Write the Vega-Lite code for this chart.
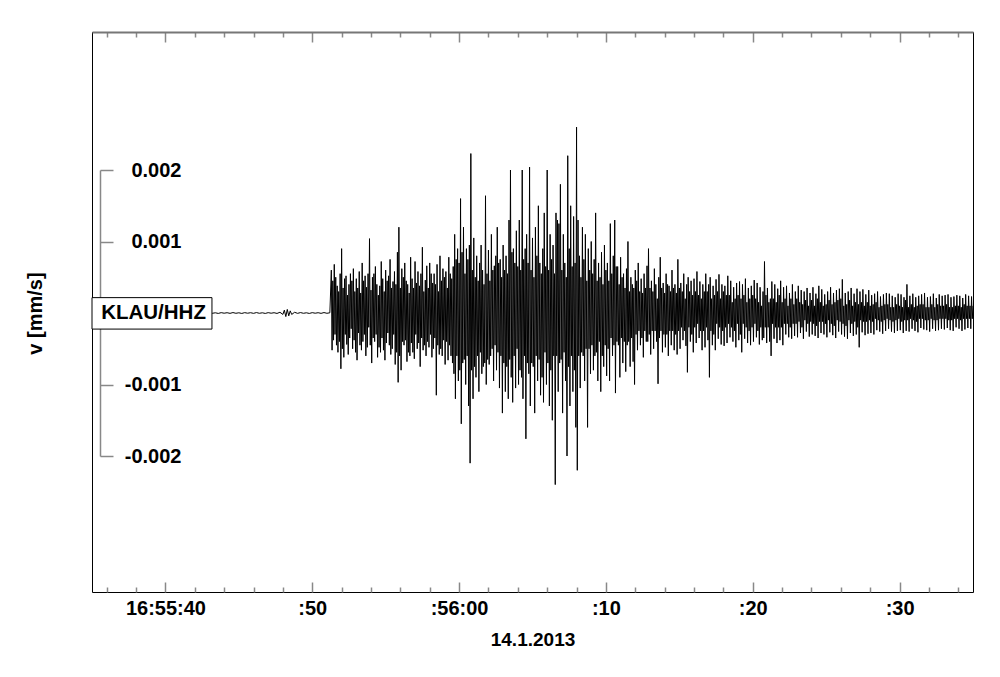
{
"$schema": "https://vega.github.io/schema/vega-lite/v6.json",
"width": 881,
"height": 560,
"autosize": {"type": "none"},
"padding": {"left": 92, "top": 32, "right": 27, "bottom": 85},
"background": "white",
"config": {"view": {"stroke": "#000", "strokeWidth": 1}, "font": "Liberation Sans"},
"datasets": {
"trace": [
{"t":35,"v":0.000005},{"t":35.2,"v":-0.000004},{"t":35.4,"v":0.000006},{"t":35.6,"v":-0.000003},{"t":35.8,"v":0.000004},{"t":36,"v":-0.000006},{"t":36.2,"v":0.000003},{"t":36.4,"v":-0.000005},{"t":36.6,"v":0.000006},{"t":36.8,"v":-0.000004},{"t":37,"v":0.000003},{"t":37.2,"v":-0.000006},{"t":37.4,"v":0.000005},{"t":37.6,"v":-0.000003},{"t":37.8,"v":0.000004},{"t":38,"v":-0.000005},{"t":38.2,"v":0.000006},{"t":38.4,"v":-0.000004},{"t":38.6,"v":0.000003},{"t":38.8,"v":-0.000006},{"t":39,"v":0.000005},{"t":39.2,"v":-0.000003},{"t":39.4,"v":0.000004},{"t":39.6,"v":-0.000005},{"t":39.8,"v":0.000006},{"t":40,"v":-0.000004},{"t":40.2,"v":0.000003},{"t":40.4,"v":-0.000006},{"t":40.6,"v":0.000005},{"t":40.8,"v":-0.000003},{"t":41,"v":0.000004},{"t":41.2,"v":-0.000005},{"t":41.4,"v":0.000006},{"t":41.6,"v":-0.000004},{"t":41.8,"v":0.000003},{"t":42,"v":-0.000006},{"t":42.2,"v":0.000005},{"t":42.4,"v":-0.000003},{"t":42.6,"v":0.000004},{"t":42.8,"v":-0.000005},{"t":43,"v":0.000006},{"t":43.2,"v":-0.000004},{"t":43.4,"v":0.000003},{"t":43.6,"v":-0.000006},{"t":43.8,"v":0.000005},{"t":44,"v":-0.000003},{"t":44.2,"v":0.000004},{"t":44.4,"v":-0.000005},{"t":44.6,"v":0.000006},{"t":44.8,"v":-0.000004},{"t":45,"v":0.000003},{"t":45.2,"v":-0.000006},{"t":45.4,"v":0.000005},{"t":45.6,"v":-0.000003},{"t":45.8,"v":0.000004},{"t":46,"v":-0.000005},{"t":46.2,"v":0.000006},{"t":46.4,"v":-0.000004},{"t":46.6,"v":0.000003},{"t":46.8,"v":-0.000006},{"t":47,"v":0.000005},{"t":47.2,"v":-0.000003},{"t":47.4,"v":0.000004},{"t":47.6,"v":-0.000006},{"t":47.8,"v":0.00001},{"t":48,"v":-0.00002},{"t":48.1,"v":0.00004},{"t":48.2,"v":-0.00005},{"t":48.3,"v":0.00005},{"t":48.4,"v":-0.00004},{"t":48.5,"v":0.00003},{"t":48.6,"v":-0.00002},{"t":48.8,"v":0.00001},{"t":49,"v":-0.000005},{"t":49.2,"v":0.000006},{"t":49.4,"v":-0.000004},{"t":49.6,"v":0.000003},{"t":49.8,"v":-0.000006},{"t":50,"v":0.000005},{"t":50.2,"v":-0.000003},{"t":50.4,"v":0.000004},{"t":50.6,"v":-0.000005},{"t":50.8,"v":0.000006},{"t":51,"v":-0.000004},{"t":51.2,"v":0.000003},
{"t":51.3,"v":0.0006},{"t":51.35,"v":-0.00052},{"t":51.4,"v":0.00045},{"t":51.45,"v":-0.00038},{"t":51.5,"v":0.00068},{"t":51.55,"v":-0.0003},{"t":51.6,"v":0.0005},{"t":51.65,"v":-0.00045},{"t":51.7,"v":0.00038},{"t":51.75,"v":-0.00055},
{"t":51.8,"v":0.0003},{"t":51.85,"v":-0.0004},{"t":51.9,"v":0.00055},{"t":51.95,"v":-0.00078},{"t":52,"v":0.0009},{"t":52.05,"v":-0.0005},{"t":52.1,"v":0.00035},{"t":52.15,"v":-0.00062},{"t":52.2,"v":0.00048},{"t":52.25,"v":-0.0003},
{"t":52.3,"v":0.00052},{"t":52.35,"v":-0.00044},{"t":52.4,"v":0.00025},{"t":52.45,"v":-0.00058},{"t":52.5,"v":0.0004},{"t":52.55,"v":-0.00035},{"t":52.6,"v":0.00055},{"t":52.65,"v":-0.00022},{"t":52.7,"v":0.00045},{"t":52.75,"v":-0.0005},
{"t":52.8,"v":0.00062},{"t":52.85,"v":-0.00038},{"t":52.9,"v":0.0003},{"t":52.95,"v":-0.00055},{"t":53,"v":0.00048},{"t":53.05,"v":-0.00066},{"t":53.1,"v":0.00035},{"t":53.15,"v":-0.00028},{"t":53.2,"v":0.00058},{"t":53.25,"v":-0.00045},
{"t":53.3,"v":0.00028},{"t":53.35,"v":-0.00052},{"t":53.4,"v":0.0007},{"t":53.45,"v":-0.0004},{"t":53.5,"v":0.00045},{"t":53.55,"v":-0.0003},{"t":53.6,"v":0.00052},{"t":53.65,"v":-0.0006},{"t":53.7,"v":0.00036},{"t":53.75,"v":-0.00048},
{"t":53.8,"v":0.00055},{"t":53.85,"v":-0.0002},{"t":53.9,"v":0.00104},{"t":53.95,"v":-0.00045},{"t":54,"v":0.00032},{"t":54.05,"v":-0.0007},{"t":54.1,"v":0.0005},{"t":54.15,"v":-0.00035},{"t":54.2,"v":0.00055},{"t":54.25,"v":-0.0004},
{"t":54.3,"v":0.00065},{"t":54.35,"v":-0.0003},{"t":54.4,"v":0.0004},{"t":54.45,"v":-0.00062},{"t":54.5,"v":0.00025},{"t":54.55,"v":-0.00048},{"t":54.6,"v":0.00038},{"t":54.65,"v":-0.00055},{"t":54.7,"v":0.00072},{"t":54.75,"v":-0.00035},
{"t":54.8,"v":0.00048},{"t":54.85,"v":-0.00052},{"t":54.9,"v":0.0003},{"t":54.95,"v":-0.00066},{"t":55,"v":0.0006},{"t":55.05,"v":-0.00042},{"t":55.1,"v":0.00045},{"t":55.15,"v":-0.00028},{"t":55.2,"v":0.00052},{"t":55.25,"v":-0.00045},
{"t":55.3,"v":0.00075},{"t":55.35,"v":-0.00058},{"t":55.4,"v":0.00035},{"t":55.45,"v":-0.0005},{"t":55.5,"v":0.00044},{"t":55.55,"v":-0.0003},{"t":55.6,"v":0.00058},{"t":55.65,"v":-0.00072},{"t":55.7,"v":0.0004},{"t":55.75,"v":-0.00055},
{"t":55.8,"v":0.00085},{"t":55.85,"v":-0.00097},{"t":55.9,"v":0.0012},{"t":55.95,"v":-0.0006},{"t":56,"v":0.00035},{"t":56.05,"v":-0.0008},{"t":56.1,"v":0.00062},{"t":56.15,"v":-0.0004},{"t":56.2,"v":0.0005},{"t":56.25,"v":-0.00045},
{"t":56.3,"v":0.0007},{"t":56.35,"v":-0.00038},{"t":56.4,"v":0.00045},{"t":56.45,"v":-0.00068},{"t":56.5,"v":0.0004},{"t":56.55,"v":-0.00055},{"t":56.6,"v":0.00028},{"t":56.65,"v":-0.0006},{"t":56.7,"v":0.00078},{"t":56.75,"v":-0.00042},
{"t":56.8,"v":0.00048},{"t":56.85,"v":-0.00055},{"t":56.9,"v":0.00035},{"t":56.95,"v":-0.00064},{"t":57,"v":0.00072},{"t":57.05,"v":-0.0003},{"t":57.1,"v":0.00042},{"t":57.15,"v":-0.0005},{"t":57.2,"v":0.00058},{"t":57.25,"v":-0.00042},
{"t":57.3,"v":0.00038},{"t":57.35,"v":-0.00075},{"t":57.4,"v":0.00055},{"t":57.45,"v":-0.00035},{"t":57.5,"v":0.00092},{"t":57.55,"v":-0.00052},{"t":57.6,"v":0.0003},{"t":57.65,"v":-0.00045},{"t":57.7,"v":0.00046},{"t":57.75,"v":-0.0006},
{"t":57.8,"v":0.00066},{"t":57.85,"v":-0.0004},{"t":57.9,"v":0.00035},{"t":57.95,"v":-0.00048},{"t":58,"v":0.0007},{"t":58.05,"v":-0.0003},{"t":58.1,"v":0.00055},{"t":58.15,"v":-0.00062},{"t":58.2,"v":0.00042},{"t":58.25,"v":-0.0005},
{"t":58.3,"v":0.00055},{"t":58.35,"v":-0.00035},{"t":58.4,"v":0.0004},{"t":58.45,"v":-0.00115},{"t":58.5,"v":0.00068},{"t":58.55,"v":-0.00045},{"t":58.6,"v":0.0003},{"t":58.65,"v":-0.00058},{"t":58.7,"v":0.0008},{"t":58.75,"v":-0.0005},
{"t":58.8,"v":0.00045},{"t":58.85,"v":-0.0006},{"t":58.9,"v":0.00062},{"t":58.95,"v":-0.00038},{"t":59,"v":0.0005},{"t":59.05,"v":-0.00072},{"t":59.1,"v":0.00058},{"t":59.15,"v":-0.0004},{"t":59.2,"v":0.00035},{"t":59.25,"v":-0.00066},
{"t":59.3,"v":0.00078},{"t":59.35,"v":-0.00045},{"t":59.4,"v":0.00055},{"t":59.45,"v":-0.0006},{"t":59.5,"v":0.00048},{"t":59.55,"v":-0.0007},{"t":59.6,"v":0.00065},{"t":59.65,"v":-0.00085},{"t":59.7,"v":0.0011},{"t":59.75,"v":-0.0012},
{"t":59.8,"v":0.00075},{"t":59.85,"v":-0.0006},{"t":59.9,"v":0.0009},{"t":59.95,"v":-0.00095},{"t":60,"v":0.0007},{"t":60.05,"v":-0.0008},{"t":60.1,"v":0.0016},{"t":60.15,"v":-0.00155},{"t":60.2,"v":0.00085},{"t":60.25,"v":-0.0007},
{"t":60.3,"v":0.0012},{"t":60.35,"v":-0.00065},{"t":60.4,"v":0.00055},{"t":60.45,"v":-0.001},{"t":60.5,"v":0.0009},{"t":60.55,"v":-0.0006},{"t":60.6,"v":0.00075},{"t":60.65,"v":-0.0013},{"t":60.7,"v":0.00095},{"t":60.75,"v":-0.0021},
{"t":60.8,"v":0.00223},{"t":60.85,"v":-0.0008},{"t":60.9,"v":0.0006},{"t":60.95,"v":-0.0012},{"t":61,"v":0.00105},{"t":61.05,"v":-0.00075},{"t":61.1,"v":0.0005},{"t":61.15,"v":-0.0009},{"t":61.2,"v":0.0008},{"t":61.25,"v":-0.0006},
{"t":61.3,"v":0.00045},{"t":61.35,"v":-0.0011},{"t":61.4,"v":0.0007},{"t":61.45,"v":-0.00055},{"t":61.5,"v":0.00095},{"t":61.55,"v":-0.00085},{"t":61.6,"v":0.0006},{"t":61.65,"v":-0.00075},{"t":61.7,"v":0.0004},{"t":61.75,"v":-0.0007},
{"t":61.8,"v":0.00164},{"t":61.85,"v":-0.001},{"t":61.9,"v":0.00055},{"t":61.95,"v":-0.00065},{"t":62,"v":0.00088},{"t":62.05,"v":-0.00072},{"t":62.1,"v":0.00045},{"t":62.15,"v":-0.0006},{"t":62.2,"v":0.0011},{"t":62.25,"v":-0.0005},
{"t":62.3,"v":0.0006},{"t":62.35,"v":-0.00095},{"t":62.4,"v":0.00066},{"t":62.45,"v":-0.00045},{"t":62.5,"v":0.0008},{"t":62.55,"v":-0.0008},{"t":62.6,"v":0.0012},{"t":62.65,"v":-0.00055},{"t":62.7,"v":0.0007},{"t":62.75,"v":-0.00105},
{"t":62.8,"v":0.00075},{"t":62.85,"v":-0.0006},{"t":62.9,"v":0.0005},{"t":62.95,"v":-0.0014},{"t":63,"v":0.00095},{"t":63.05,"v":-0.0007},{"t":63.1,"v":0.0006},{"t":63.15,"v":-0.0011},{"t":63.2,"v":0.0008},{"t":63.25,"v":-0.00075},
{"t":63.3,"v":0.00055},{"t":63.35,"v":-0.0012},{"t":63.4,"v":0.0013},{"t":63.45,"v":-0.00065},{"t":63.5,"v":0.002},{"t":63.55,"v":-0.0009},{"t":63.6,"v":0.00085},{"t":63.65,"v":-0.00125},{"t":63.7,"v":0.0009},{"t":63.75,"v":-0.0006},
{"t":63.8,"v":0.0007},{"t":63.85,"v":-0.00105},{"t":63.9,"v":0.00115},{"t":63.95,"v":-0.0005},{"t":64,"v":0.00065},{"t":64.05,"v":-0.001},{"t":64.1,"v":0.0013},{"t":64.15,"v":-0.0008},{"t":64.2,"v":0.0006},{"t":64.25,"v":-0.0009},
{"t":64.3,"v":0.002},{"t":64.35,"v":-0.0012},{"t":64.4,"v":0.00075},{"t":64.45,"v":-0.0006},{"t":64.5,"v":0.0009},{"t":64.55,"v":-0.00176},{"t":64.6,"v":0.0011},{"t":64.65,"v":-0.0007},{"t":64.7,"v":0.0007},{"t":64.75,"v":-0.00085},
{"t":64.8,"v":0.00204},{"t":64.85,"v":-0.0013},{"t":64.9,"v":0.0006},{"t":64.95,"v":-0.0007},{"t":65,"v":0.00105},{"t":65.05,"v":-0.00075},{"t":65.1,"v":0.0005},{"t":65.15,"v":-0.0014},{"t":65.2,"v":0.0012},{"t":65.25,"v":-0.0006},
{"t":65.3,"v":0.0008},{"t":65.35,"v":-0.00095},{"t":65.4,"v":0.0015},{"t":65.45,"v":-0.00065},{"t":65.5,"v":0.0007},{"t":65.55,"v":-0.00115},{"t":65.6,"v":0.00055},{"t":65.65,"v":-0.0009},{"t":65.7,"v":0.0009},{"t":65.75,"v":-0.00125},
{"t":65.8,"v":0.0014},{"t":65.85,"v":-0.00055},{"t":65.9,"v":0.00065},{"t":65.95,"v":-0.001},{"t":66,"v":0.002},{"t":66.05,"v":-0.0007},{"t":66.1,"v":0.0006},{"t":66.15,"v":-0.0013},{"t":66.2,"v":0.0011},{"t":66.25,"v":-0.0008},
{"t":66.3,"v":0.00075},{"t":66.35,"v":-0.0015},{"t":66.4,"v":0.00095},{"t":66.45,"v":-0.0006},{"t":66.5,"v":0.00055},{"t":66.55,"v":-0.0024},{"t":66.6,"v":0.0014},{"t":66.65,"v":-0.0006},{"t":66.7,"v":0.0013},{"t":66.75,"v":-0.0011},
{"t":66.8,"v":0.00125},{"t":66.85,"v":-0.0007},{"t":66.9,"v":0.0018},{"t":66.95,"v":-0.00065},{"t":67,"v":0.0006},{"t":67.05,"v":-0.0014},{"t":67.1,"v":0.0011},{"t":67.15,"v":-0.00055},{"t":67.2,"v":0.0007},{"t":67.25,"v":-0.00095},
{"t":67.3,"v":0.0005},{"t":67.35,"v":-0.002},{"t":67.4,"v":0.0022},{"t":67.45,"v":-0.00075},{"t":67.5,"v":0.0009},{"t":67.55,"v":-0.0013},{"t":67.6,"v":0.0015},{"t":67.65,"v":-0.0006},{"t":67.7,"v":0.00065},{"t":67.75,"v":-0.0011},
{"t":67.8,"v":0.00135},{"t":67.85,"v":-0.0008},{"t":67.9,"v":0.0007},{"t":67.95,"v":-0.0016},{"t":68,"v":0.0026},{"t":68.05,"v":-0.0022},{"t":68.1,"v":0.0013},{"t":68.15,"v":-0.0006},{"t":68.2,"v":0.0008},{"t":68.25,"v":-0.00105},
{"t":68.3,"v":0.0005},{"t":68.35,"v":-0.00055},{"t":68.4,"v":0.0012},{"t":68.45,"v":-0.0006},{"t":68.5,"v":0.00075},{"t":68.55,"v":-0.00095},{"t":68.6,"v":0.0011},{"t":68.65,"v":-0.0005},{"t":68.7,"v":0.00045},{"t":68.75,"v":-0.0016},
{"t":68.8,"v":0.0009},{"t":68.85,"v":-0.0005},{"t":68.9,"v":0.0006},{"t":68.95,"v":-0.00085},{"t":69,"v":0.001},{"t":69.05,"v":-0.00045},{"t":69.1,"v":0.00055},{"t":69.15,"v":-0.0008},{"t":69.2,"v":0.00075},{"t":69.25,"v":-0.0006},
{"t":69.3,"v":0.0014},{"t":69.35,"v":-0.00055},{"t":69.4,"v":0.00045},{"t":69.45,"v":-0.00095},{"t":69.5,"v":0.0007},{"t":69.55,"v":-0.0004},{"t":69.6,"v":0.0005},{"t":69.65,"v":-0.0011},{"t":69.7,"v":0.00085},{"t":69.75,"v":-0.0006},
{"t":69.8,"v":0.0004},{"t":69.85,"v":-0.00075},{"t":69.9,"v":0.00095},{"t":69.95,"v":-0.00045},{"t":70,"v":0.0006},{"t":70.05,"v":-0.00088},{"t":70.1,"v":0.0007},{"t":70.15,"v":-0.0005},{"t":70.2,"v":0.00045},{"t":70.25,"v":-0.00095},
{"t":70.3,"v":0.00125},{"t":70.35,"v":-0.00035},{"t":70.4,"v":0.00055},{"t":70.45,"v":-0.0006},{"t":70.5,"v":0.0008},{"t":70.55,"v":-0.00045},{"t":70.6,"v":0.0013},{"t":70.65,"v":-0.00112},{"t":70.7,"v":0.00065},{"t":70.75,"v":-0.0004},
{"t":70.8,"v":0.00065},{"t":70.85,"v":-0.00045},{"t":70.9,"v":0.0004},{"t":70.95,"v":-0.0009},{"t":71,"v":0.00078},{"t":71.05,"v":-0.00035},{"t":71.1,"v":0.0005},{"t":71.15,"v":-0.0007},{"t":71.2,"v":0.00055},{"t":71.25,"v":-0.0004},
{"t":71.3,"v":0.00035},{"t":71.35,"v":-0.00082},{"t":71.4,"v":0.00062},{"t":71.45,"v":-0.00045},{"t":71.5,"v":0.001},{"t":71.55,"v":-0.0004},{"t":71.6,"v":0.0003},{"t":71.65,"v":-0.00075},{"t":71.7,"v":0.0005},{"t":71.75,"v":-0.00035},
{"t":71.8,"v":0.0004},{"t":71.85,"v":-0.00068},{"t":71.9,"v":0.00035},{"t":71.95,"v":-0.001},{"t":72,"v":0.0006},{"t":72.05,"v":-0.0003},{"t":72.1,"v":0.00045},{"t":72.15,"v":-0.00052},{"t":72.2,"v":0.0007},{"t":72.25,"v":-0.00025},
{"t":72.3,"v":0.0003},{"t":72.35,"v":-0.00045},{"t":72.4,"v":0.00048},{"t":72.45,"v":-0.00035},{"t":72.5,"v":0.00028},{"t":72.55,"v":-0.00062},{"t":72.6,"v":0.00055},{"t":72.65,"v":-0.00025},{"t":72.7,"v":0.00035},{"t":72.75,"v":-0.0004},
{"t":72.8,"v":0.00066},{"t":72.85,"v":-0.0004},{"t":72.9,"v":0.0009},{"t":72.95,"v":-0.0003},{"t":73,"v":0.00035},{"t":73.05,"v":-0.00058},{"t":73.1,"v":0.00045},{"t":73.15,"v":-0.00025},{"t":73.2,"v":0.0003},{"t":73.25,"v":-0.0005},
{"t":73.3,"v":0.00062},{"t":73.35,"v":-0.00025},{"t":73.4,"v":0.0004},{"t":73.45,"v":-0.0004},{"t":73.5,"v":0.0002},{"t":73.55,"v":-0.00099},{"t":73.6,"v":0.0005},{"t":73.65,"v":-0.00035},{"t":73.7,"v":0.00078},{"t":73.75,"v":-0.00025},
{"t":73.8,"v":0.00035},{"t":73.85,"v":-0.00055},{"t":73.9,"v":0.00042},{"t":73.95,"v":-0.0003},{"t":74,"v":0.00028},{"t":74.05,"v":-0.00048},{"t":74.1,"v":0.00055},{"t":74.15,"v":-0.0003},{"t":74.2,"v":0.0004},{"t":74.25,"v":-0.0006},
{"t":74.3,"v":0.00038},{"t":74.35,"v":-0.00025},{"t":74.4,"v":0.0003},{"t":74.45,"v":-0.00045},{"t":74.5,"v":0.0006},{"t":74.55,"v":-0.00025},{"t":74.6,"v":0.00035},{"t":74.65,"v":-0.00052},{"t":74.7,"v":0.0004},{"t":74.75,"v":-0.0003},
{"t":74.8,"v":0.00028},{"t":74.85,"v":-0.00058},{"t":74.9,"v":0.00075},{"t":74.95,"v":-0.00025},{"t":75,"v":0.00035},{"t":75.05,"v":-0.0005},{"t":75.1,"v":0.00042},{"t":75.15,"v":-0.0002},{"t":75.2,"v":0.0003},{"t":75.25,"v":-0.00038},
{"t":75.3,"v":0.00055},{"t":75.35,"v":-0.00025},{"t":75.4,"v":0.0002},{"t":75.45,"v":-0.00046},{"t":75.5,"v":0.0004},{"t":75.55,"v":-0.00083},{"t":75.6,"v":0.0005},{"t":75.65,"v":-0.0002},{"t":75.7,"v":0.0003},{"t":75.75,"v":-0.0004},
{"t":75.8,"v":0.00045},{"t":75.85,"v":-0.0003},{"t":75.9,"v":0.00025},{"t":75.95,"v":-0.00055},{"t":76,"v":0.00048},{"t":76.05,"v":-0.0002},{"t":76.1,"v":0.0003},{"t":76.15,"v":-0.00042},{"t":76.2,"v":0.00058},{"t":76.25,"v":-0.00015},
{"t":76.3,"v":0.00025},{"t":76.35,"v":-0.00035},{"t":76.4,"v":0.00044},{"t":76.45,"v":-0.00025},{"t":76.5,"v":0.0002},{"t":76.55,"v":-0.00052},{"t":76.6,"v":0.0004},{"t":76.65,"v":-0.00025},{"t":76.7,"v":0.0003},{"t":76.75,"v":-0.00048},
{"t":76.8,"v":0.00055},{"t":76.85,"v":-0.0002},{"t":76.9,"v":0.0003},{"t":76.95,"v":-0.00038},{"t":77,"v":0.0004},{"t":77.05,"v":-0.0009},{"t":77.1,"v":0.0005},{"t":77.15,"v":-0.00025},{"t":77.2,"v":0.0002},{"t":77.25,"v":-0.00045},
{"t":77.3,"v":0.00038},{"t":77.35,"v":-0.0003},{"t":77.4,"v":0.00025},{"t":77.45,"v":-0.00052},{"t":77.5,"v":0.00047},{"t":77.55,"v":-0.00015},{"t":77.6,"v":0.0003},{"t":77.65,"v":-0.00036},{"t":77.7,"v":0.00054},{"t":77.75,"v":-0.0002},
{"t":77.8,"v":0.0002},{"t":77.85,"v":-0.00044},{"t":77.9,"v":0.0004},{"t":77.95,"v":-0.00025},{"t":78,"v":0.0003},{"t":78.05,"v":-0.00046},{"t":78.1,"v":0.00038},{"t":78.15,"v":-0.0002},{"t":78.2,"v":0.00025},{"t":78.25,"v":-0.00042},
{"t":78.3,"v":0.00052},{"t":78.35,"v":-0.00015},{"t":78.4,"v":0.00025},{"t":78.45,"v":-0.00034},{"t":78.5,"v":0.00045},{"t":78.55,"v":-0.0002},{"t":78.6,"v":0.00015},{"t":78.65,"v":-0.0004},{"t":78.7,"v":0.00036},{"t":78.75,"v":-0.00025},
{"t":78.8,"v":0.0002},{"t":78.85,"v":-0.00048},{"t":78.9,"v":0.00042},{"t":78.95,"v":-0.00015},{"t":79,"v":0.00025},{"t":79.05,"v":-0.00038},{"t":79.1,"v":0.00044},{"t":79.15,"v":-0.0003},{"t":79.2,"v":0.0002},{"t":79.25,"v":-0.00055},
{"t":79.3,"v":0.0004},{"t":79.35,"v":-0.00015},{"t":79.4,"v":0.00025},{"t":79.45,"v":-0.00036},{"t":79.5,"v":0.00048},{"t":79.55,"v":-0.0002},{"t":79.6,"v":0.00015},{"t":79.65,"v":-0.00042},{"t":79.7,"v":0.00035},{"t":79.75,"v":-0.00025},
{"t":79.8,"v":0.0002},{"t":79.85,"v":-0.00045},{"t":79.9,"v":0.00038},{"t":79.95,"v":-0.0002},{"t":80,"v":0.00025},{"t":80.05,"v":-0.0004},{"t":80.1,"v":0.00046},{"t":80.15,"v":-0.00015},{"t":80.2,"v":0.0002},{"t":80.25,"v":-0.00034},
{"t":80.3,"v":0.00042},{"t":80.35,"v":-0.00025},{"t":80.4,"v":0.00015},{"t":80.45,"v":-0.00044},{"t":80.5,"v":0.00036},{"t":80.55,"v":-0.0002},{"t":80.6,"v":0.0001},{"t":80.65,"v":-0.00038},{"t":80.7,"v":0.0003},{"t":80.75,"v":-0.00035},
{"t":80.8,"v":0.00072},{"t":80.85,"v":-0.0002},{"t":80.9,"v":0.00025},{"t":80.95,"v":-0.00042},{"t":81,"v":0.00035},{"t":81.05,"v":-0.0002},{"t":81.1,"v":0.00015},{"t":81.15,"v":-0.0004},{"t":81.2,"v":0.0002},{"t":81.25,"v":-0.0006},
{"t":81.3,"v":0.00044},{"t":81.35,"v":-0.00015},{"t":81.4,"v":0.0002},{"t":81.45,"v":-0.00036},{"t":81.5,"v":0.0004},{"t":81.55,"v":-0.0002},{"t":81.6,"v":0.00015},{"t":81.65,"v":-0.00042},{"t":81.7,"v":0.00034},{"t":81.75,"v":-0.0002},
{"t":81.8,"v":0.00025},{"t":81.85,"v":-0.00038},{"t":81.9,"v":0.00045},{"t":81.95,"v":-0.0002},{"t":82,"v":0.00015},{"t":82.05,"v":-0.00045},{"t":82.1,"v":0.00036},{"t":82.15,"v":-0.00015},{"t":82.2,"v":0.0002},{"t":82.25,"v":-0.0003},
{"t":82.3,"v":0.00038},{"t":82.35,"v":-0.00015},{"t":82.4,"v":0.0001},{"t":82.45,"v":-0.00034},{"t":82.5,"v":0.00028},{"t":82.55,"v":-0.0002},{"t":82.6,"v":0.0002},{"t":82.65,"v":-0.00036},{"t":82.7,"v":0.0004},{"t":82.75,"v":-0.00015},
{"t":82.8,"v":0.00012},{"t":82.85,"v":-0.00032},{"t":82.9,"v":0.0003},{"t":82.95,"v":-0.00015},{"t":83,"v":0.0002},{"t":83.05,"v":-0.00034},{"t":83.1,"v":0.00038},{"t":83.15,"v":-0.00012},{"t":83.2,"v":0.00015},{"t":83.25,"v":-0.00028},
{"t":83.3,"v":0.00032},{"t":83.35,"v":-0.0002},{"t":83.4,"v":0.00012},{"t":83.45,"v":-0.00036},{"t":83.5,"v":0.0003},{"t":83.55,"v":-0.0001},{"t":83.6,"v":0.00018},{"t":83.65,"v":-0.00026},{"t":83.7,"v":0.00035},{"t":83.75,"v":-0.00015},
{"t":83.8,"v":0.0001},{"t":83.85,"v":-0.00033},{"t":83.9,"v":0.00028},{"t":83.95,"v":-0.00012},{"t":84,"v":0.00018},{"t":84.05,"v":-0.0003},{"t":84.1,"v":0.00036},{"t":84.15,"v":-0.00015},{"t":84.2,"v":0.0001},{"t":84.25,"v":-0.00032},
{"t":84.3,"v":0.00027},{"t":84.35,"v":-0.00018},{"t":84.4,"v":0.0002},{"t":84.45,"v":-0.00035},{"t":84.5,"v":0.00038},{"t":84.55,"v":-0.00012},{"t":84.6,"v":0.00015},{"t":84.65,"v":-0.00028},{"t":84.7,"v":0.00033},{"t":84.75,"v":-0.00012},
{"t":84.8,"v":0.0001},{"t":84.85,"v":-0.0003},{"t":84.9,"v":0.00026},{"t":84.95,"v":-0.00015},{"t":85,"v":0.00012},{"t":85.05,"v":-0.00034},{"t":85.1,"v":0.0003},{"t":85.15,"v":-0.0001},{"t":85.2,"v":0.00018},{"t":85.25,"v":-0.00027},
{"t":85.3,"v":0.00036},{"t":85.35,"v":-0.00015},{"t":85.4,"v":0.00012},{"t":85.45,"v":-0.00031},{"t":85.5,"v":0.00028},{"t":85.55,"v":-0.00018},{"t":85.6,"v":0.00015},{"t":85.65,"v":-0.00035},{"t":85.7,"v":0.00032},{"t":85.75,"v":-0.0001},
{"t":85.8,"v":0.00018},{"t":85.85,"v":-0.00026},{"t":85.9,"v":0.00034},{"t":85.95,"v":-0.00012},{"t":86,"v":0.0002},{"t":86.05,"v":-0.0003},{"t":86.1,"v":0.00047},{"t":86.15,"v":-0.00015},{"t":86.2,"v":0.0001},{"t":86.25,"v":-0.00033},
{"t":86.3,"v":0.00028},{"t":86.35,"v":-0.00018},{"t":86.4,"v":0.00012},{"t":86.45,"v":-0.00036},{"t":86.5,"v":0.0003},{"t":86.55,"v":-0.0001},{"t":86.6,"v":0.00018},{"t":86.65,"v":-0.00028},{"t":86.7,"v":0.00035},{"t":86.75,"v":-0.00015},
{"t":86.8,"v":0.0001},{"t":86.85,"v":-0.00032},{"t":86.9,"v":0.00027},{"t":86.95,"v":-0.00012},{"t":87,"v":0.00015},{"t":87.05,"v":-0.0003},{"t":87.1,"v":0.00034},{"t":87.15,"v":-0.0002},{"t":87.2,"v":0.00012},{"t":87.25,"v":-0.00048},
{"t":87.3,"v":0.0003},{"t":87.35,"v":-0.0001},{"t":87.4,"v":0.00015},{"t":87.45,"v":-0.00027},{"t":87.5,"v":0.00033},{"t":87.55,"v":-0.00012},{"t":87.6,"v":0.0001},{"t":87.65,"v":-0.00031},{"t":87.7,"v":0.00026},{"t":87.75,"v":-0.00012},
{"t":87.8,"v":0.00015},{"t":87.85,"v":-0.00029},{"t":87.9,"v":0.00032},{"t":87.95,"v":-0.0001},{"t":88,"v":0.0001},{"t":88.05,"v":-0.00028},{"t":88.1,"v":0.00025},{"t":88.15,"v":-0.00012},{"t":88.2,"v":0.00012},{"t":88.25,"v":-0.0003},
{"t":88.3,"v":0.00027},{"t":88.35,"v":-0.00008},{"t":88.4,"v":0.00015},{"t":88.45,"v":-0.00024},{"t":88.5,"v":0.0003},{"t":88.55,"v":-0.0001},{"t":88.6,"v":0.00008},{"t":88.65,"v":-0.00026},{"t":88.7,"v":0.00023},{"t":88.75,"v":-0.00012},
{"t":88.8,"v":0.0001},{"t":88.85,"v":-0.00029},{"t":88.9,"v":0.00026},{"t":88.95,"v":-0.0001},{"t":89,"v":0.00012},{"t":89.05,"v":-0.00025},{"t":89.1,"v":0.00028},{"t":89.15,"v":-0.00008},{"t":89.2,"v":0.00012},{"t":89.25,"v":-0.00022},
{"t":89.3,"v":0.00027},{"t":89.35,"v":-0.0001},{"t":89.4,"v":0.00008},{"t":89.45,"v":-0.00026},{"t":89.5,"v":0.00024},{"t":89.55,"v":-0.00012},{"t":89.6,"v":0.00008},{"t":89.65,"v":-0.00028},{"t":89.7,"v":0.00022},{"t":89.75,"v":-0.0001},
{"t":89.8,"v":0.00012},{"t":89.85,"v":-0.00025},{"t":89.9,"v":0.00027},{"t":89.95,"v":-0.00008},{"t":90,"v":0.0001},{"t":90.05,"v":-0.00024},{"t":90.1,"v":0.00026},{"t":90.15,"v":-0.00012},{"t":90.2,"v":0.00008},{"t":90.25,"v":-0.00028},
{"t":90.3,"v":0.00022},{"t":90.35,"v":-0.0001},{"t":90.4,"v":0.00018},{"t":90.45,"v":-0.00025},{"t":90.5,"v":0.0004},{"t":90.55,"v":-0.0001},{"t":90.6,"v":0.00008},{"t":90.65,"v":-0.00026},{"t":90.7,"v":0.00024},{"t":90.75,"v":-0.00008},
{"t":90.8,"v":0.00012},{"t":90.85,"v":-0.00022},{"t":90.9,"v":0.00027},{"t":90.95,"v":-0.0001},{"t":91,"v":0.00008},{"t":91.05,"v":-0.00025},{"t":91.1,"v":0.00022},{"t":91.15,"v":-0.00012},{"t":91.2,"v":0.0001},{"t":91.25,"v":-0.00027},
{"t":91.3,"v":0.00024},{"t":91.35,"v":-0.00008},{"t":91.4,"v":0.00012},{"t":91.45,"v":-0.00021},{"t":91.5,"v":0.00026},{"t":91.55,"v":-0.00008},{"t":91.6,"v":0.00012},{"t":91.65,"v":-0.00023},{"t":91.7,"v":0.00028},{"t":91.75,"v":-0.0001},
{"t":91.8,"v":0.00008},{"t":91.85,"v":-0.00024},{"t":91.9,"v":0.00022},{"t":91.95,"v":-0.0001},{"t":92,"v":0.00008},{"t":92.05,"v":-0.00026},{"t":92.1,"v":0.00023},{"t":92.15,"v":-0.00008},{"t":92.2,"v":0.00012},{"t":92.25,"v":-0.00022},
{"t":92.3,"v":0.00027},{"t":92.35,"v":-0.0001},{"t":92.4,"v":0.00008},{"t":92.45,"v":-0.00025},{"t":92.5,"v":0.00021},{"t":92.55,"v":-0.0001},{"t":92.6,"v":0.00012},{"t":92.65,"v":-0.00024},{"t":92.7,"v":0.00026},{"t":92.75,"v":-0.00008},
{"t":92.8,"v":0.0001},{"t":92.85,"v":-0.00022},{"t":92.9,"v":0.00024},{"t":92.95,"v":-0.00008},{"t":93,"v":0.0001},{"t":93.05,"v":-0.00023},{"t":93.1,"v":0.00025},{"t":93.15,"v":-0.00008},{"t":93.2,"v":0.00012},{"t":93.25,"v":-0.00021},
{"t":93.3,"v":0.00026},{"t":93.35,"v":-0.0001},{"t":93.4,"v":0.00008},{"t":93.45,"v":-0.00024},{"t":93.5,"v":0.00022},{"t":93.55,"v":-0.0001},{"t":93.6,"v":0.00008},{"t":93.65,"v":-0.00025},{"t":93.7,"v":0.00023},{"t":93.75,"v":-0.00008},
{"t":93.8,"v":0.0001},{"t":93.85,"v":-0.0002},{"t":93.9,"v":0.00025},{"t":93.95,"v":-0.00008},{"t":94,"v":0.0001},{"t":94.05,"v":-0.00022},{"t":94.1,"v":0.00024},{"t":94.15,"v":-0.0001},{"t":94.2,"v":0.00008},{"t":94.25,"v":-0.00025},
{"t":94.3,"v":0.00021},{"t":94.35,"v":-0.00008},{"t":94.4,"v":0.00012},{"t":94.45,"v":-0.00023},{"t":94.5,"v":0.00026},{"t":94.55,"v":-0.00008},{"t":94.6,"v":0.0001},{"t":94.65,"v":-0.00021},{"t":94.7,"v":0.00024},{"t":94.75,"v":-0.00008},
{"t":94.8,"v":0.0001},{"t":94.85,"v":-0.00022},{"t":94.9,"v":0.00023},{"t":94.95,"v":-0.00008},{"t":95,"v":0.0001}
],
"station": [{"name": "KLAU/HHZ"}]
},
"layer": [
{
"data": {"name": "trace"},
"mark": {"type": "line", "color": "#000", "strokeWidth": 1, "clip": true},
"encoding": {
"x": {"field": "t", "type": "quantitative",
"scale": {"domain": [35, 95], "nice": false, "zero": false},
"axis": {"orient": "bottom", "values": [36,38,40,42,44,46,48,50,52,54,56,58,60,62,64,66,68,70,72,74,76,78,80,82,84,86,88,90,92,94],
"domain": false, "grid": false, "tickColor": "#888", "tickWidth": 1.5,
"tickSize": {"condition": {"test": "datum.value % 10 === 0", "value": -10}, "value": -5},
"labelExpr": "datum.value == 40 ? '16:55:40' : datum.value == 60 ? ':56:00' : datum.value % 10 == 0 ? ':' + (datum.value % 60) : ''",
"labelFont": "Liberation Sans", "labelFontSize": 20, "labelFontWeight": "bold", "labelColor": "#000",
"labelPadding": 16, "labelOverlap": false, "labelFlush": false,
"title": "14.1.2013", "titleFont": "Liberation Sans", "titleFontSize": 19, "titleFontWeight": "bold", "titleColor": "#000", "titlePadding": 7}},
"y": {"field": "v", "type": "quantitative",
"scale": {"domain": [-0.002, 0.002], "range": [424, 138], "nice": false, "zero": false},
"axis": {"orient": "left", "offset": -8, "values": [-0.002, -0.001, 0.001, 0.002],
"domainColor": "#888", "domainWidth": 1.5, "grid": false,
"tickColor": "#888", "tickWidth": 1.5, "tickSize": -13,
"labelAlign": "right", "labelBaseline": "middle", "labelPadding": -68,
"labelExpr": "datum.value < 0 ? '-' + format(-datum.value, '.3f') : format(datum.value, '.3f')",
"labelFont": "Liberation Sans", "labelFontSize": 20, "labelFontWeight": "bold", "labelColor": "#000",
"labelOverlap": false, "labelFlush": false,
"title": "v [mm/s]", "titleX": -65, "titleY": 281, "titleAngle": -90, "titleAlign": "center", "titleBaseline": "middle",
"titleFont": "Liberation Sans", "titleFontSize": 20, "titleFontWeight": "bold", "titleColor": "#000"}}
}
},
{
"data": {"name": "station"},
"mark": {"type": "rect", "fill": "#fff", "stroke": "#000", "strokeWidth": 1},
"encoding": {
"x": {"datum": 35, "type": "quantitative",
"axis": {"orient": "top", "values": [36,38,40,42,44,46,48,50,52,54,56,58,60,62,64,66,68,70,72,74,76,78,80,82,84,86,88,90,92,94],
"domain": true, "domainColor": "#777", "domainWidth": 2, "grid": false, "labels": false, "title": null,
"tickColor": "#888", "tickWidth": 1.5,
"tickSize": {"condition": {"test": "datum.value % 10 === 0", "value": -10}, "value": -5}}},
"x2": {"datum": 43.17},
"y": {"datum": 0.000215, "type": "quantitative"},
"y2": {"datum": -0.000225}
}
},
{
"data": {"name": "station"},
"mark": {"type": "text", "font": "Liberation Sans", "fontSize": 20.5, "fontWeight": "bold", "color": "#000", "align": "center", "baseline": "middle"},
"encoding": {
"x": {"datum": 39.19, "type": "quantitative", "axis": null},
"y": {"datum": 0, "type": "quantitative"},
"text": {"field": "name"}
}
}
],
"resolve": {"axis": {"x": "independent"}}
}
